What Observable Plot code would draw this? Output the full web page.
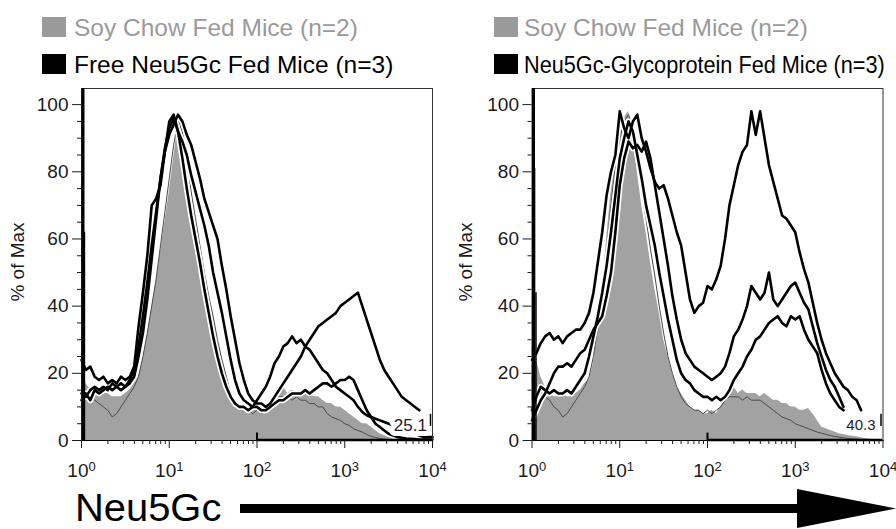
<!DOCTYPE html>
<html><head><meta charset="utf-8">
<script src="https://cdn.jsdelivr.net/npm/d3@7"></script>
<script src="https://cdn.jsdelivr.net/npm/@observablehq/plot@0.6"></script>
<style>
body{margin:0;background:#fff;}
#root{position:relative;width:896px;height:529px;overflow:hidden;background:#fff;font-family:"Liberation Sans",Arial,sans-serif;}
#root > svg{position:absolute;}
</style></head><body><div id="root"></div>
<script>
// channel positions (decades, log10 of fluorescence)
const logX = [0,0.05,0.1,0.15,0.2,0.25,0.3,0.35,0.4,0.45,0.5,0.55,0.6,0.65,0.7,0.75,0.8,0.85,0.9,0.95,
 1,1.05,1.1,1.15,1.2,1.25,1.3,1.35,1.4,1.45,1.5,1.55,1.6,1.65,1.7,1.75,1.8,1.85,1.9,1.95,
 2,2.05,2.1,2.15,2.2,2.25,2.3,2.35,2.4,2.45,2.5,2.55,2.6,2.65,2.7,2.75,2.8,2.85,2.9,2.95,
 3,3.05,3.1,3.15,3.2,3.25,3.3,3.35,3.4,3.45,3.5,3.55,3.6,3.65,3.7,3.75,3.8,3.85,3.9,3.95,4];

// Left panel: soy chow (2) and free Neu5Gc (3)
const soyL1 = [22,17,15,14,13,14,14,13,13,13, 14,15,17,19,24,31,39,47,56,65,
 74,84,94,96,80,70,63,56,49,43, 38,30,25,20,15,12,11,10,10,9,
 9,8,8,10,12,14,16,14,15,14, 14,14,14,13,13,12,11,11,10,10,
 9,8,7,6,5,5,4,3,2,1.5, 1,0.6,0.4,0.3,0.2,0.1,0,0,0,0, 0];
const soyL2 = [16,14,13,12,11,10,9,7,8,10, 12,14,16,19,25,32,40,48,58,68,
 78,88,95,92,84,74,66,58,50,43, 37,30,24,19,14,11,10,10,9,8,
 9,8,9,10,12,13,13,13,12,13, 12,12,11,11,10,10,8,7,6.5,6,
 5,4.5,3.5,3,2.5,1.8,1.2,0.9,0.6,0.4, 0.3,0.2,0.1,0,0,0,0,0,0,0, 0];
const freeL1 = [24,21,22,19,18,19,17,18,17,19, 18,19,22,34,44,55,70,72,76,86,
 95,97,92,84,75,67,60,53,45,38, 31,25,20,16,13,11,10,10,9,10,
 12,14,16,19,23,25,28,29,31,29, 30,28,27,25,23,21,20,18,16,15,
 14,13,12,10,8.5,7.5,7,6.5,6,5.5, 5,4.5,4,3.5,3,2.5,2,1.5,1,1, 1];
const freeL2 = [14,13,15,16,15,16,15,17,16,15, 16,17,19,25,32,42,54,66,78,86,
 91,94,97,95,91,88,83,78,72,68, 64,60,52,45,37,30,23,18,14,12,
 11,11,10,11,13,15,17,19,21,23, 25,28,30,32,34,35,36,37,38,40,
 41,42,43,44,40,36,32,28,24,21, 19,17,15,13,12,11,10,9,null,null, null];
const freeL3 = [12,14,12,15,14,15,16,15,16,17, 16,18,21,28,37,47,58,68,78,87,
 93,96,92,89,85,79,74,69,64,58, 50,44,38,31,24,18,14,12,11,10,
 10,9,9,10,11,12,12,13,14,14, 14,15,14,15,16,17,17,16,17,18,
 18,19,18,15,12,9,7,5,4,3, 2,1.5,1,0.8,0.6,0.5,0.4,0.3,0.3,0.3, 0.3];

// Right panel: soy chow (2) and Neu5Gc-glycoprotein (3)
const soyR1 = [28,24,19,16,14,13,13,14,13,13, 14,15,17,18,23,33,45,60,74,85,
 92,96,98,92,80,70,62,53,45,38, 30,25,20,16,14,12,10,9,9,8,
 8,9,8,10,12,14,16,14,15,14, 14,14,13,14,13,12,12,11,11,10,
 10,9,9,9.5,8,6,4,3.5,3,2.5, 2,1.8,1.5,1.3,1.1,0.8,0.6,0.4,0.3,0.2, 0];
const soyR2 = [18,15,14,13,12,10,9,7,8,10, 12,14,16,19,25,34,44,57,70,82,
 90,95,97,93,84,74,66,57,49,40, 32,25,20,16,13,11,10,9,9,8,
 9,8,9,10,12,13,13,13,12,13, 12,12,12,11,10,9,8,7,6.5,6,
 5,4.5,4,3.5,3,2.5,2.2,1.8,1.5,1.2, 1,0.8,0.6,0.5,0.4,0.3,0.2,0.2,0.1,0.1, 0];
const glyR1 = [24,26,29,31,32,30,31,29,31,32, 33,33,35,38,44,53,62,73,80,85,
 98,93,90,95,97,90,86,81,77,75, 76,72,67,62,58,50,42,38,40,41,
 46,45,48,52,60,70,76,82,86,88, 98,91,98,90,82,77,72,67,66,64,
 62,56,51,47,41,35,30,26,23,20, 18,16,15,13,12,9,null,null,null,null, null];
const glyR2 = [6,9,12,14,17,20,22,22,23,22, 24,26,27,30,33,35,37,43,50,62,
 76,84,89,87,88,86,89,84,76,68, 60,52,43,36,30,26,24,22,21,20,
 19,18,19,20,22,26,31,33,36,40, 46,44,42,44,50,42,40,42,44,46,
 47,44,41,39,34,29,25,21,18,16, 13,10,null,null,null,null,null,null,null,null, null];
const glyR3 = [9,13,16,15,14,15,14,14,15,14, 16,18,20,25,31,37,44,52,62,73,
 84,90,95,92,85,78,70,64,58,50, 43,36,30,24,20,18,17,15,14,13,
 13,12,13,12,13,15,18,20,22,25, 27,30,31,33,35,36,37,35,34,37,
 36,37,33,30,28,26,21,17,14,12, 10,9,null,null,null,null,null,null,null,null, null];

// first-channel spikes
const spikeXL = [1.08], spikeVL = [62];
const spikeXR = [1.07, 1.11], spikeVR = [81, 44];

// gates
const gateLo = 100, gateHi = 10000;
const gateLabelL = "25.1", gateLabelR = "40.3";
const gateLabelX = 5600, gateLabelY = 4.6;

// axes
const xMajor = [1, 10, 100, 1000, 10000];
const xExpLabels = ["0", "1", "2", "3", "4"];
const xMinor = [2,3,4,5,6,7,8,9,20,30,40,50,60,70,80,90,200,300,400,500,600,700,800,900,2000,3000,4000,5000,6000,7000,8000,9000];
const yMajor = [0, 20, 40, 60, 80, 100];
const yMinor = [5,10,15,25,30,35,45,50,55,65,70,75,85,90,95];

const legendL = ["Soy Chow Fed Mice (n=2)", "Free Neu5Gc Fed Mice (n=3)"];
const legendR = ["Soy Chow Fed Mice (n=2)", "Neu5Gc-Glycoprotein Fed Mice (n=3)"];
const yLabel = "% of Max";
const bottomLabel = "Neu5Gc";

const GRAY_FILL = "#a2a2a2";
const FONT = "'Liberation Sans', Arial, sans-serif";

function rowsOf(fill, thin, blacks) {
  return logX.map((e, i) => ({x: Math.pow(10, e), fill: fill[i], thin: thin[i],
    b0: blacks[0][i], b1: blacks[1][i], b2: blacks[2][i]}));
}

function panel(rows, spikeX, spikeV, label, labelSize, ml, mr) {
  const spikes = spikeX.map((x, i) => ({x, v: spikeV[i]}));
  const blackKeys = ["b0", "b1", "b2"];
  const svg = Plot.plot({
    width: 448, height: 405,
    marginLeft: ml, marginRight: mr, marginTop: 8, marginBottom: 45,
    x: {type: "log", domain: [1, 1e4], label: null},
    y: {domain: [0, 104.8], label: null},
    style: {fontFamily: FONT, fontSize: "19px", color: "#1a1a1a", background: "transparent", overflow: "visible"},
    marks: [
      Plot.areaY(rows, {x: "x", y: "fill", fill: GRAY_FILL}),
      Plot.line(rows, {x: "x", y: "thin", stroke: "#4a4a4a", strokeWidth: 1}),
      ...blackKeys.map(k => Plot.line(rows, {x: "x", y: k, stroke: "white", strokeWidth: 6, strokeLinejoin: "round"})),
      ...blackKeys.map(k => Plot.line(rows, {x: "x", y: k, stroke: "black", strokeWidth: 2.6, strokeLinejoin: "round"})),
      Plot.ruleX(spikes, {x: "x", y1: 0, y2: "v", stroke: "black", strokeWidth: 1.5}),
      Plot.text([label], {x: gateLabelX, y: gateLabelY, text: d => d, fontSize: labelSize, fill: "#222", stroke: "white", strokeWidth: 10, paintOrder: "stroke"}),
      Plot.ruleX([gateHi], {y1: 4.2, y2: 7.8, dx: -2, stroke: "black", strokeWidth: 1.5}),
      Plot.ruleY([0], {x1: gateLo, x2: gateHi, stroke: "black", strokeWidth: 2.5, dy: -0.5}),
      Plot.ruleX([gateLo], {y1: 0, y2: 2.2, stroke: "black", strokeWidth: 2}),
      Plot.frame({stroke: "#333", strokeWidth: 1}),
      Plot.ruleX([1], {stroke: "black", strokeWidth: 3, dx: 1.5}),
      Plot.ruleY([0], {stroke: "black", strokeWidth: 1.2}),
      Plot.axisY({ticks: yMajor, tickSize: 9, tickPadding: 4, label: null, fontSize: 19}),
      Plot.axisY({ticks: yMinor, tickSize: 4, tickFormat: () => "", label: null}),
      Plot.axisX({ticks: xMajor, tickSize: 8, tickPadding: 15, label: null, fontSize: 19,
        tickFormat: d => xExpLabels[xMajor.indexOf(d)]}),
      Plot.axisX({ticks: xMinor, tickSize: 4, tickFormat: () => "", label: null})
    ]
  });
  const s = d3.select(svg);
  s.selectAll('g[aria-label="x-axis tick label"] text').each(function() {
    const t = d3.select(this);
    const k = t.text();
    if (!k) return;
    t.text("");
    t.append("tspan").text("10");
    t.append("tspan").attr("dy", "-0.5em").attr("font-size", "13px").text(k);
  });
  s.append("text")
    .attr("transform", "translate(23.5,182) rotate(-90)")
    .attr("text-anchor", "middle")
    .attr("font-family", FONT)
    .attr("font-size", 18)
    .attr("fill", "#1a1a1a")
    .attr("textLength", 79).attr("lengthAdjust", "spacingAndGlyphs")
    .text(yLabel);
  return svg;
}

const root = document.getElementById("root");

// legend
const leg = d3.select(root).append("svg").attr("width", 896).attr("height", 80).style("left", "0px").style("top", "0px");
function legendBlock(x0, sx, labels, squeeze) {
  leg.append("rect").attr("x", sx).attr("y", 17).attr("width", 24).attr("height", 20).attr("fill", "#9a9a9a");
  leg.append("text").attr("x", x0).attr("y", 36).attr("font-family", FONT).attr("font-size", 24.5).attr("fill", "#9a9a9a").text(labels[0]);
  leg.append("rect").attr("x", sx).attr("y", 54).attr("width", 24).attr("height", 20).attr("fill", "#000");
  leg.append("text").attr("transform", `translate(${x0},73) scale(${squeeze},1)`)
    .attr("font-family", FONT).attr("font-size", 24.5).attr("fill", "#000").text(labels[1]);
}
legendBlock(74, 42, legendL, 1);
legendBlock(524, 494, legendR, 0.885);

const left = panel(rowsOf(soyL1, soyL2, [freeL1, freeL2, freeL3]), spikeXL, spikeVL, gateLabelL, 17, 81, 16);
left.style.position = "absolute"; left.style.left = "0px"; left.style.top = "80px";
root.appendChild(left);
const right = panel(rowsOf(soyR1, soyR2, [glyR1, glyR2, glyR3]), spikeXR, spikeVR, gateLabelR, 15, 83.5, 13.5);
right.style.position = "absolute"; right.style.left = "448px"; right.style.top = "80px";
root.appendChild(right);

// bottom axis title with arrow
const bot = d3.select(root).append("svg").attr("width", 896).attr("height", 49).style("left", "0px").style("top", "480px");
bot.append("text").attr("transform", "translate(75,40.5) scale(1.05,1)").attr("font-family", FONT).attr("font-size", 38).attr("fill", "#000").text(bottomLabel);
bot.append("rect").attr("x", 240).attr("y", 24).attr("width", 562).attr("height", 9).attr("fill", "#000");
bot.append("path").attr("d", "M797,9 L896,28.5 L797,48 Z").attr("fill", "#000");
</script></body></html>
